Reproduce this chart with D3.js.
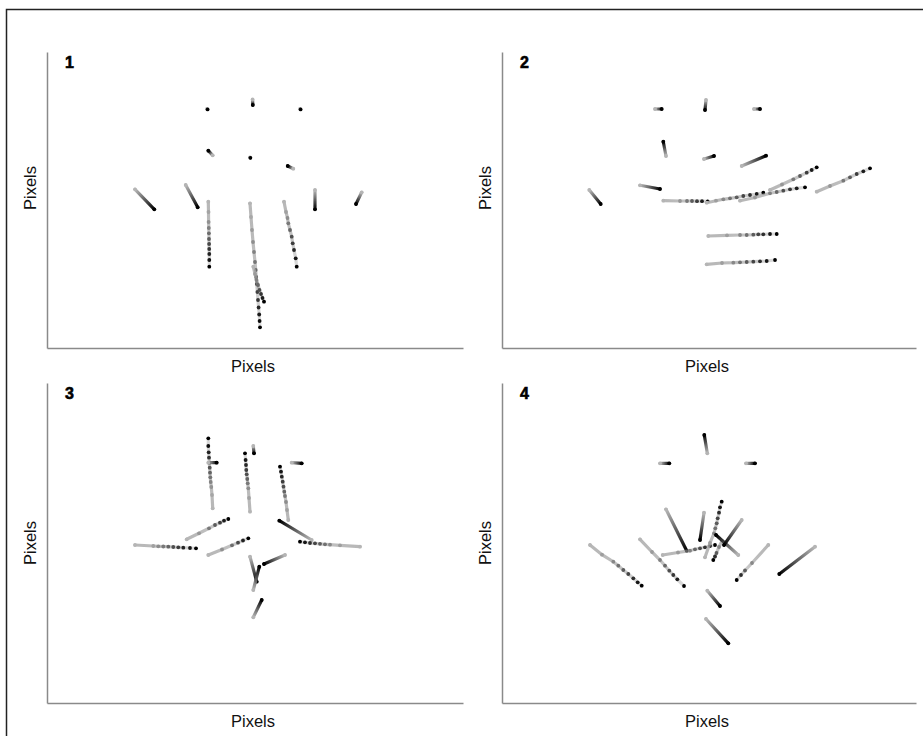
<!DOCTYPE html>
<html>
<head>
<meta charset="utf-8">
<script src="https://cdn.jsdelivr.net/npm/d3@7/dist/d3.min.js"></script>
<style>
  body { margin: 0; background: #fff; }
  text { font-family: "Liberation Sans", Arial, sans-serif; }
</style>
</head>
<body>
<div id="chart"></div>
<script>
// panel names and axis titles
var panelNames = ["1", "2", "3", "4"];
var xTitle = "Pixels",
  yTitle = "Pixels";

// tracks per panel: each track is a list of [x, y] points (pixels), first point = oldest (light), last = newest (dark)
var tracks1 = [
  [[160, 57], [160.6, 57.4]],
  [[205.6, 47.5], [205.8, 53]],
  [[253, 57], [253.6, 57.4]],
  [[165.7, 103.3], [161.3, 98.7]],
  [[203, 105.4], [203.4, 105.8]],
  [[246.3, 116.7], [240.7, 114]],
  [[88, 137.3], [107.3, 157.3]],
  [[138.7, 133], [150.7, 155.3]],
  [[161.3, 149.7], [161.5, 160], [161.6, 170], [161.8, 176], [161.9, 181.3], [162, 187], [162.1, 192], [162.2, 197], [162.3, 202], [162.3, 208], [162.3, 214.7]],
  [[203, 151.3], [204, 165], [205, 178], [206, 190], [207, 200], [208, 210], [208.7, 218], [209.2, 225], [209.8, 232], [210.4, 240], [211, 248], [211.6, 255.5], [212.2, 262.5], [212.6, 269], [213, 275.3]],
  [[206.3, 214.7], [208, 222], [209.5, 228], [211, 233], [212.5, 238], [214, 242], [215.5, 246], [217, 249.7]],
  [[237, 149.7], [239, 160], [240.5, 166], [241.3, 171.3], [243, 178], [244.7, 184.7], [245.7, 191.3], [247, 198], [248.7, 206.3], [249.7, 214.7]],
  [[268, 138], [268, 157.3]],
  [[314.7, 140.3], [309, 152]]
];

var tracks2 = [
  [[153, 57], [159.7, 57]],
  [[204, 48], [203, 58]],
  [[252, 57], [258, 57]],
  [[164, 104], [161.3, 89.7]],
  [[202, 107], [212, 104]],
  [[239.7, 114], [264, 103.7]],
  [[138, 133.3], [158, 137]],
  [[87.3, 138], [98.7, 152]],
  [[161.3, 148.7], [178, 149], [185, 149], [190, 149], [195, 149.2], [200, 149.2], [205.7, 149.3]],
  [[204.7, 150.7], [214, 148.7], [221.3, 147.3], [228, 146.3], [234.7, 145.3], [241.3, 144], [248, 143], [254.7, 142], [261.3, 140.7]],
  [[238, 148.7], [253, 145.5], [268, 141.3], [274.7, 140], [281.3, 138.7], [288, 137.3], [294.7, 136.3], [303, 135.3]],
  [[268, 138], [280, 132.5], [291.3, 127.3], [298, 124], [304.7, 120.7], [309.7, 118], [314.7, 115.3]],
  [[314.7, 139.7], [328, 134], [341.3, 128.7], [348, 125.3], [354.7, 122], [361.3, 119.3], [368, 116.3]],
  [[206.3, 184], [225, 183.3], [238, 183], [244.7, 183], [251.3, 182.7], [256.3, 182.3], [261.3, 182.3], [268, 182], [274.7, 182]],
  [[204.7, 212.3], [220, 211], [231.3, 210.7], [238, 210.3], [244.7, 210], [251.3, 209.7], [258, 209.3], [264.7, 209], [273, 208]]
];

var tracks3 = [
  [[165.7, 125.3], [165, 112], [164.3, 104], [163.7, 99], [163.3, 94.3], [163, 89.7], [162.7, 84.7], [162.3, 79.7], [162, 74.7], [161.7, 69.3], [161.3, 63], [161.3, 55.3]],
  [[161.3, 79.7], [169.7, 79.7]],
  [[203, 128.7], [202, 115], [201.3, 105.3], [200.7, 100.3], [200.3, 96], [199.7, 91.3], [199.3, 87], [199, 82], [198.6, 77], [198, 70.3]],
  [[206.3, 63], [207, 70.3]],
  [[241.3, 137], [240, 127], [239, 119], [238, 113], [237.3, 108.7], [236.5, 103.7], [235.7, 98.7], [234.8, 93.7], [234, 88.7], [233, 83.7]],
  [[244.7, 79.7], [254.7, 80.3]],
  [[139.7, 156.3], [152, 150.3], [162, 145.3], [168, 142], [173, 139.7], [177, 137.7], [181.3, 136]],
  [[88, 162], [106.3, 163], [111.3, 163.3], [116.3, 163.5], [121.3, 163.7], [126.3, 164], [131.3, 164.3], [136.3, 164.7], [143, 165], [149, 165.3]],
  [[161.3, 172], [175, 166.5], [185, 162.3], [191, 159.7], [196, 157.5], [201.3, 155.3]],
  [[264.7, 157], [232.3, 137.7]],
  [[313, 163.7], [293, 162.3], [283, 161.7], [278, 161.3], [273, 160.8], [268, 160.3], [263, 160], [258, 159.3], [253, 158.7]],
  [[238, 172], [217, 181]],
  [[203, 173.7], [209.7, 198.7]],
  [[206.3, 207], [212.3, 183.7]],
  [[206.3, 234.3], [214.7, 217]]
];

var tracks4 = [
  [[158, 80.3], [167.3, 80.3]],
  [[205.3, 70.3], [202.3, 52]],
  [[244, 80.3], [253, 80.3]],
  [[88, 162], [100, 171.7], [111.3, 178.7], [116.3, 182.7], [121.3, 187], [126.3, 191], [131.3, 195.3], [135.7, 199.3], [139.7, 202.7]],
  [[138, 156.3], [150, 169], [158, 177], [163, 182.7], [167.3, 187.7], [171.3, 192], [175.3, 196.3], [182, 203]],
  [[164, 126.3], [184.7, 167.7]],
  [[160.7, 172], [176, 169.5], [188, 167.7], [193, 166.3], [198, 165.3], [203, 164.3], [208, 163], [213, 162]],
  [[202, 129.7], [198, 157]],
  [[203, 174.3], [208, 160], [212, 150.3], [213.3, 145.3], [214.7, 140.3], [215.7, 135.3], [217, 129.7], [218, 124.3], [219.7, 118.7]],
  [[220, 158], [217, 164], [214.5, 170], [213, 173.5], [211.3, 177]],
  [[236.3, 172], [214, 152]],
  [[239.7, 137], [222, 162]],
  [[266.3, 162], [250, 180], [243, 187.5], [239, 192], [234.7, 197]],
  [[313, 163.7], [277.3, 191]],
  [[205.3, 207.7], [218, 223]],
  [[204, 236], [226.3, 260.3]]
];

var allTracks = [tracks1, tracks2, tracks3, tracks4];

// layout of the four panels (axis corners)
var layout = [
  { x0: 47, x1: 463, y0: 52, y1: 348 },
  { x0: 502, x1: 916, y0: 52, y1: 348 },
  { x0: 47, x1: 463, y0: 383, y1: 703 },
  { x0: 502, x1: 916, y0: 383, y1: 703 }
];

var width = 923,
  height = 736;

var svg = d3.select("#chart").append("svg")
  .attr("width", width)
  .attr("height", height);

var defs = svg.append("defs");
defs.append("filter")
    .attr("id", "soft")
    .attr("x", "-20%").attr("y", "-20%")
    .attr("width", "140%").attr("height", "140%")
  .append("feGaussianBlur")
    .attr("stdDeviation", 0.6);

// outer frame
svg.append("rect")
  .attr("x", 6.5)
  .attr("y", 9.5)
  .attr("width", width + 10)
  .attr("height", height + 10)
  .attr("fill", "none")
  .attr("stroke", "#222")
  .attr("stroke-width", 1.5);

var shade = d3.interpolateRgb("#b5b5b5", "#000");

panelNames.forEach(function(name, i) {
  var L = layout[i];
  var x = d3.scaleLinear().domain([0, L.x1 - L.x0]).range([L.x0, L.x1]);
  var y = d3.scaleLinear().domain([0, L.y1 - L.y0]).range([L.y0, L.y1]);
  var g = svg.append("g").attr("class", "panel");

  g.append("g")
      .attr("transform", "translate(0," + L.y1 + ")")
      .call(d3.axisBottom(x).tickValues([]).tickSizeOuter(0))
      .call(function(a) { a.select(".domain").attr("stroke", "#8a8a8a").attr("stroke-width", 1.5); });

  g.append("g")
      .attr("transform", "translate(" + L.x0 + ",0)")
      .call(d3.axisLeft(y).tickValues([]).tickSizeOuter(0))
      .call(function(a) { a.select(".domain").attr("stroke", "#8a8a8a").attr("stroke-width", 1.5); });

  g.append("text")
    .attr("x", L.x0 + 18)
    .attr("y", L.y0 + 16)
    .attr("font-family", "DejaVu Sans")
    .attr("font-weight", "bold")
    .attr("font-size", 16)
    .attr("stroke", "#000")
    .attr("stroke-width", 0.6)
    .attr("fill", "#000")
    .text(name);

  g.append("text")
    .attr("x", (L.x0 + L.x1) / 2 - 2)
    .attr("y", L.y1 + 24)
    .attr("text-anchor", "middle")
    .attr("font-size", 16.5)
    .attr("fill", "#111")
    .text(xTitle);

  g.append("text")
    .attr("transform", "translate(" + (L.x0 - 11) + "," + (L.y1 - 160) + ") rotate(-90)")
    .attr("text-anchor", "middle")
    .attr("font-size", 16.5)
    .attr("fill", "#111")
    .text(yTitle);

  var marks = g.append("g").attr("filter", "url(#soft)");
  var line = d3.line()
    .x(function(d) { return x(d[0]); })
    .y(function(d) { return y(d[1]); });

  allTracks[i].forEach(function(track, j) {
    var first = track[0],
      last = track[track.length - 1],
      dotted = track.length > 2;
    var id = "grad" + i + "_" + j;
    var grad = defs.append("linearGradient")
      .attr("id", id)
      .attr("gradientUnits", "userSpaceOnUse")
      .attr("x1", x(first[0])).attr("y1", y(first[1]))
      .attr("x2", x(last[0])).attr("y2", y(last[1]));
    grad.append("stop").attr("offset", "0%").attr("stop-color", "#b0b0b0").attr("stop-opacity", 0.9);
    grad.append("stop").attr("offset", "100%")
      .attr("stop-color", dotted ? "#777" : "#000")
      .attr("stop-opacity", dotted ? 0.25 : 1);

    marks.append("path")
      .datum(track)
      .attr("fill", "none")
      .attr("stroke", "url(#" + id + ")")
      .attr("stroke-width", 3.2)
      .attr("stroke-linecap", "round")
      .attr("d", line);

    marks.selectAll(null)
      .data(track)
      .enter().append("circle")
        .attr("cx", function(d) { return x(d[0]); })
        .attr("cy", function(d) { return y(d[1]); })
        .attr("r", 1.9)
        .attr("fill", function(d, k) { return shade(track.length > 1 ? k / (track.length - 1) : 1); });
  });
});
</script>
</body>
</html>
